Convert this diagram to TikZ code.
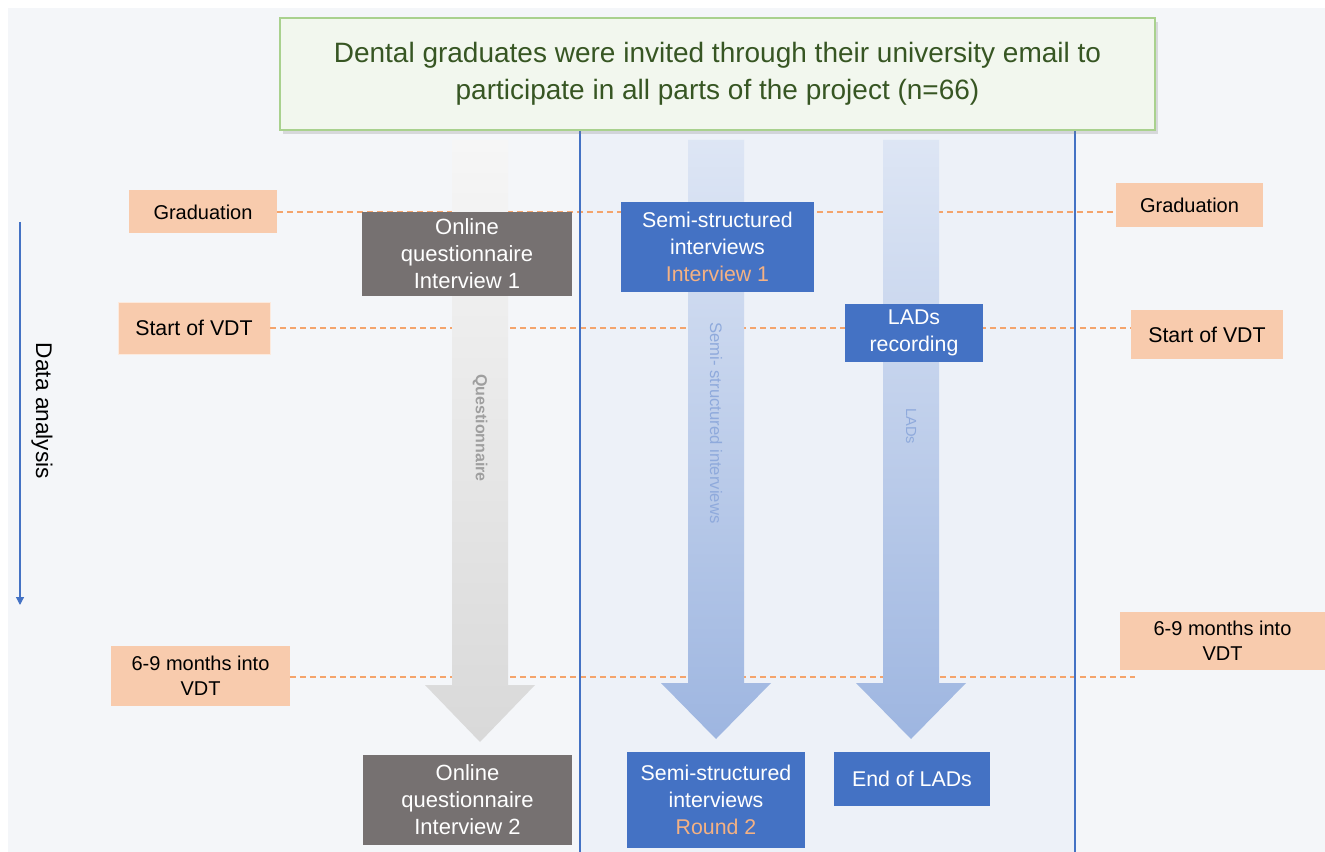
\documentclass[tikz,border=0pt]{standalone}
\usepackage{fontspec}
\setmainfont{Liberation Sans}
\usetikzlibrary{shadows,arrows.meta}
\definecolor{bgc}{HTML}{F4F6F9}
\definecolor{panelc}{HTML}{EDF1F8}
\definecolor{peach}{HTML}{F8CBAD}
\definecolor{dashc}{HTML}{F4A46C}
\definecolor{blueb}{HTML}{4472C4}
\definecolor{grayb}{HTML}{767171}
\definecolor{lightor}{HTML}{F4B183}
\definecolor{topfill}{HTML}{F2F7EE}
\definecolor{topdraw}{HTML}{A9D18E}
\definecolor{toptext}{HTML}{375623}
\definecolor{barlab}{HTML}{8FAADC}
\tikzset{
  box/.style={inner sep=0pt, align=center, font=\fontsize{16}{20}\selectfont},
  peachbox/.style={box, fill=peach, text=black},
  graybox/.style={box, fill=grayb, text=white, font=\fontsize{16.5}{20.25}\selectfont},
  bluebox/.style={box, fill=blueb, text=white},
  timeline/.style={draw=dashc, dashed, dash pattern=on 4.5pt off 3pt, line width=1pt},
  barlabel/.style={rotate=-90, font=\bfseries\fontsize{12}{14}\selectfont},
}
\begin{document}
\begin{tikzpicture}[x=0.75pt,y=-0.75pt]
\useasboundingbox (0,0) rectangle (1325,852);
% background
\fill[bgc] (8,8) rectangle (1325,852);
\fill[panelc] (580,130) rectangle (1075,852);

% time nodes
\node[peachbox, minimum width=111pt, minimum height=32.25pt, font=\fontsize{15}{19}\selectfont] (gradL) at (203,212) {Graduation};
\node[peachbox, minimum width=110.25pt, minimum height=33pt, font=\fontsize{15}{19}\selectfont] (gradR) at (1189.5,205) {Graduation};
\node[peachbox, minimum width=114pt, minimum height=39pt, draw=white!60!peach, line width=0.6pt] (svL) at (194,328) {Start of VDT};
\node[peachbox, minimum width=114pt, minimum height=36.75pt] (svR) at (1207,334.5) {Start of VDT};
\node[peachbox, minimum width=134.25pt, minimum height=45pt, font=\fontsize{15}{19}\selectfont] (mL) at (200.5,676) {6-9 months into\\VDT};
\node[peachbox, minimum width=153.75pt, minimum height=43.5pt, font=\fontsize{15}{19}\selectfont] (mR) at (1222.5,641) {6-9 months into\\VDT};
\coordinate (mEnd) at (1135,677);

% dashed time lines
\draw[timeline] (gradL.east) -- (gradL.east -| gradR.west);
\draw[timeline] (svL.east) -- (svL.east -| svR.west);
\draw[timeline] (mL.east |- mEnd) -- (mEnd);

% panel borders
\draw[blueb, line width=0.9pt] (580,130) -- (580,852);
\draw[blueb, line width=0.9pt] (1075,130) -- (1075,852);

% block arrows
\shade[top color=gray!7, bottom color=gray!30] (452,140) -- (508,140) -- (508,685) -- (535,685) -- (480,742) -- (425,685) -- (452,685) -- cycle;
\shade[top color=blueb!18, bottom color=blueb!52] (688,140) -- (744,140) -- (744,683) -- (771,683) -- (716,739) -- (661,683) -- (688,683) -- cycle;
\shade[top color=blueb!18, bottom color=blueb!52] (883,140) -- (939,140) -- (939,683) -- (966,683) -- (911,739) -- (856,683) -- (883,683) -- cycle;
\node[barlabel, text=gray!75] (ql) at (480,428) {Questionnaire};
\node[barlabel, text=barlab, font=\fontsize{12.5}{14}\selectfont] (sl) at (716,423) {Semi- structured interviews};
\node[barlabel, text=barlab, font=\fontsize{11}{13}\selectfont] (ll) at (911,426) {LADs};

% data analysis arrow
\coordinate (daS) at (20,222);
\coordinate (daE) at (20,605);
\draw[blueb, line width=0.9pt, -{Triangle[length=6pt,width=6pt]}] (daS) -- (daE);
\node[rotate=-90, font=\fontsize{17}{20}\selectfont] (dal) at (42,411) {Data analysis};

% activity boxes
\node[graybox, minimum width=157.5pt, minimum height=63pt] (oq1) at (467,254) {Online\\questionnaire\\Interview 1};
\node[graybox, minimum width=156.75pt, minimum height=67.5pt] (oq2) at (467.5,800) {Online\\questionnaire\\Interview 2};
\node[bluebox, minimum width=144.75pt, minimum height=67.5pt] (ss1) at (717.5,247) {Semi-structured\\interviews\\\textcolor{lightor}{Interview 1}};
\node[bluebox, minimum width=133.5pt, minimum height=72pt] (ss2) at (716,800) {Semi-structured\\interviews\\\textcolor{lightor}{Round 2}};
\node[bluebox, minimum width=103.5pt, minimum height=43.5pt] (lr) at (914,333) {LADs\\recording};
\node[bluebox, minimum width=117pt, minimum height=40.5pt] (eol) at (912,779) {End of LADs};

% top box
\node[box, fill=topfill, draw=topdraw, line width=1.2pt, minimum width=656.25pt, minimum height=84pt, text=toptext, font=\fontsize{21}{28}\selectfont, drop shadow={opacity=0.25, shadow xshift=2pt, shadow yshift=-3pt}] (top) at (717.5,74) {Dental graduates were invited through their university email to\\participate in all parts of the project (n=66)};
\end{tikzpicture}
\end{document}
